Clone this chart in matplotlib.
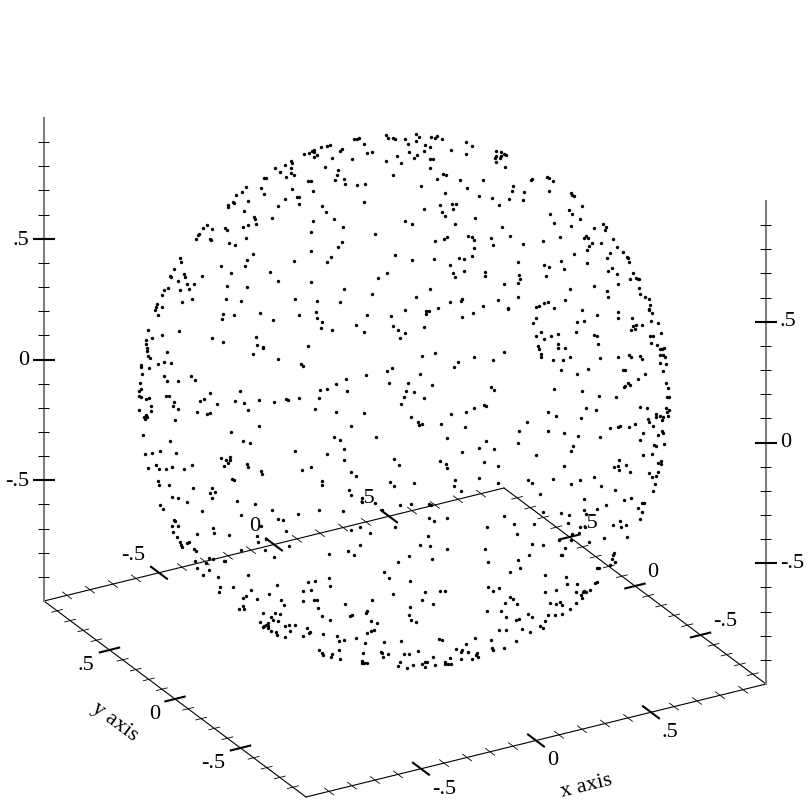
import numpy as np
import matplotlib
matplotlib.use('Agg')
import matplotlib.pyplot as plt

plt.rcParams['font.family'] = 'Liberation Serif'

major_ticks = [-0.5, 0, 0.5]
major_labels = ['-.5', '0', '.5']
minor_ticks = [-0.9, -0.8, -0.7, -0.6, -0.4, -0.3, -0.2, -0.1, 0.1, 0.2, 0.3, 0.4, 0.6, 0.7, 0.8, 0.9]

# points, one list per block of it (block corner, then 1/3 px)
block_corners = [(130, 130), (310, 130), (490, 130), (130, 310), (310, 310), (490, 310), (130, 490), (310, 490), (490, 490)]
dots_a = [(523,75),(536,71),(482,95),(486,101),(466,107),(436,118),(483,117),(451,129),(484,131),(492,139),(467,143),(403,147),(409,147),(533,156),(348,173),(394,176),(485,179),(336,190),(403,195),(317,199),(464,209),(501,205),(507,203),(355,217),(309,218),(313,221),(507,224),(295,228),(293,234),(444,232),(342,247),(373,265),(374,271),(425,268),(232,287),(379,286),(354,287),(339,293),(285,297),(292,304),(246,301),(220,298),(207,315),(205,319),(197,330),(240,331),(244,332),(349,327),(298,341),(314,347),(370,375),(150,387),(153,400),(352,393),(492,395),(274,412),(346,412),(131,419),(303,431),(421,430),(162,434),(164,444),(119,442),(123,443),(215,441),(143,457),(443,455),(171,464),(191,464),(291,472),(351,475),(113,477),(178,480),(149,483),(101,484),(95,499),(185,510),(289,509),(496,510),(155,519),(333,516),(80,526),(77,535),(95,534)]
dots_b = [(317,15),(229,19),(326,23),(234,28),(250,26),(256,30),(285,30),(362,25),(380,20),(374,28),(396,30),(132,29),(141,29),(147,28),(319,37),(467,39),(162,45),(295,46),(344,47),(359,54),(487,52),(34,55),(52,51),(59,48),(96,59),(90,66),(12,62),(5,66),(12,68),(341,65),(424,62),(298,70),(172,72),(185,70),(22,78),(322,77),(467,76),(262,80),(13,85),(65,88),(127,90),(312,88),(361,90),(368,89),(228,95),(273,101),(45,113),(361,118),(85,122),(82,137),(248,138),(400,136),(407,139),(101,149),(76,153),(2,155),(381,151),(451,154),(520,153),(105,165),(140,168),(164,165),(334,172),(471,178),(10,187),(405,191),(507,200),(162,218),(37,230),(390,229),(425,225),(437,226),(342,239),(430,241),(47,249),(396,249),(404,262),(495,266),(10,275),(72,271),(286,276),(305,286),(436,285),(98,294),(3,310),(196,315),(475,322),(486,324),(412,325),(401,331),(376,336),(492,334),(97,338),(85,355),(492,356),(2,367),(254,378),(64,384),(50,398),(448,386),(463,391),(487,382),(372,389),(305,394),(419,407),(461,426),(430,431),(524,429),(526,442),(230,433),(205,446),(436,445),(3,460),(102,480),(359,481),(186,494),(318,505),(22,516),(90,518),(419,518),(457,510),(453,516),(518,532),(383,538)]
dots_c = [(19,65),(32,70),(43,74),(48,77),(19,80),(34,82),(31,87),(16,88),(17,100),(44,115),(170,143),(177,146),(127,151),(124,154),(190,155),(69,172),(65,187),(177,185),(101,190),(242,192),(247,198),(252,201),(6,207),(58,210),(98,214),(27,229),(277,230),(237,244),(179,255),(247,256),(271,271),(191,281),(339,285),(244,292),(37,293),(313,296),(347,295),(346,304),(59,321),(209,323),(288,320),(293,326),(281,327),(3,328),(369,330),(159,337),(334,342),(306,342),(10,347),(100,346),(298,352),(380,355),(292,362),(361,373),(400,370),(253,376),(411,383),(413,388),(350,387),(416,399),(84,400),(214,396),(161,407),(290,403),(176,414),(367,416),(221,420),(355,427),(429,431),(381,436),(88,437),(168,440),(438,447),(444,451),(448,449),(420,449),(90,450),(85,463),(41,464),(384,464),(313,471),(447,478),(239,479),(350,487),(451,495),(464,503),(355,505),(83,503),(478,510),(23,514),(225,512),(175,520),(163,523),(479,528),(148,531),(139,534),(191,537),(54,538),(478,540)]
dots_d = [(76,4),(83,19),(278,15),(313,17),(391,12),(507,17),(276,29),(430,32),(55,62),(147,66),(95,79),(67,87),(246,88),(378,85),(47,93),(279,100),(47,105),(380,108),(533,111),(400,114),(398,118),(51,118),(50,125),(110,129),(368,135),(55,142),(60,148),(444,150),(102,160),(123,162),(85,166),(512,164),(519,171),(34,168),(32,174),(58,176),(36,196),(101,200),(184,201),(195,213),(110,215),(145,216),(29,223),(32,239),(27,245),(330,245),(239,253),(26,261),(34,264),(109,260),(117,262),(56,267),(48,271),(222,271),(210,277),(132,279),(314,276),(386,272),(431,278),(468,270),(473,272),(507,268),(342,283),(262,285),(128,290),(64,292),(27,304),(64,307),(145,301),(355,304),(202,308),(232,315),(241,312),(49,319),(43,323),(50,325),(46,330),(135,333),(386,351),(304,369),(39,379),(121,395),(338,396),(361,401),(496,425),(45,436),(65,432),(89,427),(139,433),(299,443),(272,447),(288,453),(301,453),(293,463),(351,465),(283,472),(355,474),(77,467),(185,469),(126,474),(53,478),(88,479),(107,480),(162,479),(394,487),(517,483),(396,496),(84,515),(306,510),(313,514),(88,527),(117,527),(190,537),(245,537)]
dots_e = [(286,4),(349,7),(358,7),(347,15),(17,10),(171,19),(244,22),(490,12),(457,24),(22,27),(35,38),(137,48),(249,50),(341,54),(34,58),(67,62),(265,64),(161,70),(286,72),(271,88),(376,132),(336,140),(493,145),(443,159),(432,173),(246,176),(232,186),(331,195),(167,199),(107,211),(79,225),(238,221),(293,221),(365,228),(31,243),(51,241),(111,246),(289,247),(311,248),(282,265),(27,267),(343,268),(274,285),(522,288),(527,290),(492,296),(16,299),(78,309),(163,311),(467,310),(424,316),(304,324),(325,339),(335,345),(326,348),(394,345),(124,351),(466,354),(197,383),(72,385),(90,392),(412,388),(529,396),(507,417),(102,421),(457,428),(52,435),(252,451),(103,453),(389,457),(522,459),(407,466),(268,469),(412,476),(2,473),(124,488),(139,502),(508,507),(434,513),(37,516),(241,520),(312,522),(35,528),(253,531),(433,531)]
dots_f = [(54,1),(275,3),(477,2),(385,10),(487,12),(320,17),(139,26),(383,26),(427,26),(130,41),(260,40),(281,35),(482,36),(503,41),(430,50),(439,47),(455,49),(435,59),(424,64),(154,68),(258,69),(203,74),(183,80),(137,82),(312,77),(321,81),(512,72),(480,81),(489,82),(163,89),(482,102),(205,106),(324,104),(145,111),(502,108),(146,119),(205,118),(226,118),(510,121),(517,120),(522,117),(41,129),(153,135),(154,145),(240,143),(510,139),(518,137),(525,143),(418,139),(424,145),(449,140),(385,145),(330,146),(456,151),(10,152),(188,152),(218,154),(511,163),(528,166),(295,179),(212,184),(399,183),(406,183),(519,187),(261,194),(466,196),(443,209),(527,221),(413,223),(420,227),(406,231),(403,234),(535,236),(3,234),(11,244),(193,241),(277,247),(328,262),(378,265),(530,264),(537,264),(451,293),(472,296),(289,298),(527,297),(317,304),(536,303),(174,310),(532,310),(197,321),(273,326),(499,316),(511,320),(498,324),(473,329),(520,325),(535,320),(517,332),(478,338),(110,339),(434,345),(488,352),(391,352),(384,354),(417,354),(360,356),(87,367),(173,367),(222,371),(516,366),(519,371),(459,372),(503,377),(264,381),(329,383),(451,392),(84,402),(250,411),(521,405),(491,407),(497,412),(242,427),(12,420),(486,434),(138,437),(458,439),(388,454),(514,455),(505,461),(514,466),(24,471),(222,470),(409,469),(385,472),(371,475),(388,483),(420,490),(477,491),(505,488),(499,502),(485,505),(312,503),(114,513),(190,511),(270,514),(23,522),(126,522),(244,525),(494,526),(333,531)]
dots_g = [(127,23),(145,28),(171,38),(89,47),(99,60),(240,13),(254,8),(245,26),(320,36),(375,45),(427,63),(217,67),(332,77),(503,74),(444,89),(459,92),(133,93),(136,97),(127,110),(144,111),(393,111),(129,128),(248,117),(251,132),(469,126),(202,135),(297,137),(142,144),(381,142),(149,159),(176,160),(170,162),(385,160),(152,167),(155,175),(408,151),(478,172),(405,184),(192,181),(197,186),(333,183),(431,203),(237,206),(250,210),(196,217),(227,222),(281,215),(285,216),(201,237),(236,244),(219,257),(354,257),(263,264),(270,293),(308,295),(268,310),(363,304),(440,287),(533,278),(347,321),(340,327),(519,307),(381,330),(418,316),(453,334),(518,337),(461,347),(328,360),(340,352),(342,361),(398,371),(434,372),(449,376),(422,384),(430,392),(445,395),(391,399),(413,402),(407,407),(402,411),(398,414),(414,410),(415,418),(422,426),(437,428),(464,410),(477,408),(496,407),(481,425),(530,417),(537,431),(442,439),(464,445),(520,442)]
dots_h = [(117,2),(123,18),(155,28),(157,39),(194,41),(453,5),(271,48),(304,45),(358,46),(362,49),(28,63),(100,66),(217,63),(356,88),(373,95),(411,86),(532,115),(256,113),(124,122),(149,113),(179,131),(354,142),(149,167),(330,169),(359,172),(115,187),(131,199),(57,196),(411,181),(524,179),(296,200),(367,210),(265,218),(534,220),(221,250),(238,266),(58,266),(15,276),(301,277),(60,291),(3,303),(344,308),(389,307),(406,305),(248,314),(533,294),(11,334),(21,334),(187,332),(335,333),(104,345),(370,345),(23,358),(301,355),(531,366),(172,367),(168,371),(125,378),(120,381),(37,382),(296,378),(60,393),(304,394),(318,399),(184,395),(200,402),(192,424),(184,426),(170,431),(40,436),(81,440),(0,430),(138,447),(88,455),(101,454),(388,450),(397,454),(495,446),(223,458),(273,456),(164,462),(467,466),(437,479),(455,483),(452,490),(473,488),(325,486),(28,484),(35,491),(38,498),(65,494),(62,504),(88,483),(158,492),(212,490),(216,493),(234,494),(283,496),(296,494),(500,493),(499,497),(505,505),(90,509),(218,505),(370,505),(454,510),(485,510),(421,508),(269,518),(156,515),(155,521),(162,523),(171,523),(351,518),(345,520),(337,525),(375,528),(405,518),(406,526),(414,525),(422,524),(265,530),(309,528),(345,534),(291,537)]
dots_i = [(151,15),(374,3),(489,5),(283,29),(422,27),(403,33),(348,47),(456,43),(463,43),(444,58),(320,60),(282,64),(212,71),(159,70),(238,77),(288,74),(457,70),(43,82),(73,105),(132,105),(233,102),(450,91),(389,95),(369,107),(409,108),(393,115),(271,113),(285,113),(82,134),(247,134),(268,132),(411,143),(343,147),(208,153),(244,153),(297,159),(126,164),(160,167),(226,177),(118,197),(373,193),(369,199),(212,199),(216,199),(85,212),(367,211),(376,218),(89,236),(322,236),(327,238),(361,227),(61,250),(165,257),(229,264),(230,286),(262,286),(315,282),(321,280),(9,306),(27,298),(166,310),(199,302),(257,310),(301,303),(282,307),(288,310),(278,308),(272,317),(276,328),(59,323),(69,329),(45,343),(80,346),(180,341),(199,344),(211,340),(217,349),(259,343),(241,360),(33,366),(113,375),(175,379),(196,377),(215,374),(48,385),(125,385),(77,393),(87,390),(164,397),(149,410),(159,418),(96,420),(27,424),(47,424),(119,428),(2,454),(78,457),(7,476),(8,482),(43,476)]
all_blocks = [dots_a, dots_b, dots_c, dots_d, dots_e, dots_f, dots_g, dots_h, dots_i]


def proj(x, y, z):
    # orthographic view of the -1..1 cube, in picture pixels
    px = 405 + 230 * x - 131 * y
    py = 402 - 56.5 * x - 98 * y - 241.5 * z
    return px, py


def tick(ax, centre, direction, half, lw, color='black'):
    cx, cy = centre
    ax.plot([cx - direction[0] * half, cx + direction[0] * half],
            [cy - direction[1] * half, cy + direction[1] * half],
            color=color, lw=lw, solid_capstyle='butt', zorder=3)


fig = plt.figure(figsize=(8.12, 8.12), dpi=100)
ax = fig.add_axes([0, 0, 1, 1])
ax.set_xlim(0, 812)
ax.set_ylim(812, 0)
ax.axis('off')

for corner, block in zip(block_corners, all_blocks):
    pts = np.array(block) / 3.0 + np.array(corner)
    ax.scatter(pts[:, 0], pts[:, 1], s=6, color='black', linewidths=0, zorder=2)

x_dir = (0.971, -0.239)
y_dir = (0.8, 0.6)
z_dir = (1, 0)

# box edges
for a, b in [((-1, -1), (1, -1)), ((-1, 1), (1, 1)), ((-1, -1), (-1, 1)), ((1, -1), (1, 1))]:
    p, q = proj(a[0], a[1], -1), proj(b[0], b[1], -1)
    ax.plot([p[0], q[0]], [p[1], q[1]], color='black', lw=0.8, zorder=3)
for x, y in [(-1, 1), (1, -1)]:
    p, q = proj(x, y, -1), proj(x, y, 1)
    ax.plot([p[0], q[0]], [p[1], q[1]], color='#808080', lw=1.5, zorder=3)

for v in minor_ticks:
    for y in (-1, 1):
        tick(ax, proj(v, y, -1), y_dir, 6, 0.6)
    for x in (-1, 1):
        tick(ax, proj(x, v, -1), x_dir, 6, 0.6)
    tick(ax, proj(-1, 1, v), z_dir, 5.5, 0.7)
    tick(ax, proj(1, -1, v), z_dir, 5.5, 0.7)

for v, lab in zip(major_ticks, major_labels):
    # x axis, front and back
    p = proj(v, -1, -1)
    tick(ax, p, y_dir, 11, 1.5)
    ax.text(p[0] + 11, p[1] + 19.5, lab, fontsize=16, ha='left', va='center')
    p = proj(v, 1, -1)
    tick(ax, p, y_dir, 11, 1.5)
    ax.text(p[0] - 13.5, p[1] - 18.5, lab, fontsize=16, ha='right', va='center')
    # y axis, left and right
    p = proj(-1, v, -1)
    tick(ax, p, x_dir, 11, 1.5)
    ax.text(p[0] - 15, p[1] + 14.5, lab, fontsize=16, ha='right', va='center')
    p = proj(1, v, -1)
    tick(ax, p, x_dir, 11, 1.5)
    ax.text(p[0] + 12.5, p[1] - 14, lab, fontsize=16, ha='left', va='center')
    # z axis, left and right
    p = proj(-1, 1, v)
    tick(ax, p, z_dir, 11, 1.5)
    ax.text(p[0] - 15, p[1] + 0.5, lab, fontsize=16, ha='right', va='center')
    p = proj(1, -1, v)
    tick(ax, p, z_dir, 11, 1.5)
    ax.text(p[0] + 14, p[1] - 1, lab, fontsize=16, ha='left', va='center')

ax.text(586, 786, 'x axis', fontsize=16, rotation=13.8, ha='center', va='center', rotation_mode='anchor')
ax.text(115, 722, 'y axis', fontsize=16, rotation=-36.8, ha='center', va='center', rotation_mode='anchor')

fig.savefig('out.png', dpi=100)
